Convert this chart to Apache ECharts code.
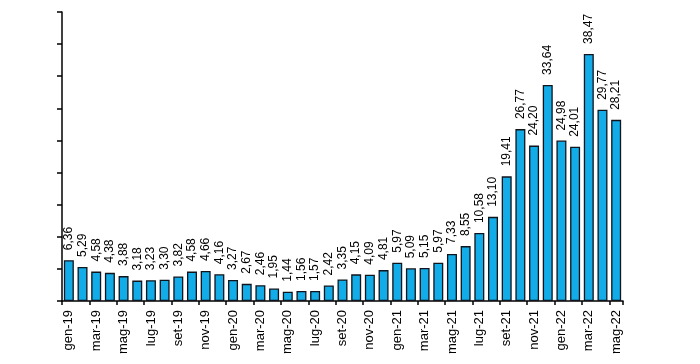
<!DOCTYPE html>
<html><head><meta charset="utf-8">
<script src="https://cdn.jsdelivr.net/npm/echarts@6/dist/echarts.min.js"></script>
<style>html,body{margin:0;padding:0;background:#fff}#c{width:700px;height:364px}</style>
</head><body><div id="c"></div>
<script>
const categories = ["gen-19","feb-19","mar-19","apr-19","mag-19","giu-19","lug-19","ago-19","set-19","ott-19","nov-19","dic-19",
"gen-20","feb-20","mar-20","apr-20","mag-20","giu-20","lug-20","ago-20","set-20","ott-20","nov-20","dic-20",
"gen-21","feb-21","mar-21","apr-21","mag-21","giu-21","lug-21","ago-21","set-21","ott-21","nov-21","dic-21",
"gen-22","feb-22","mar-22","apr-22","mag-22"];
const values = [6.36,5.29,4.58,4.38,3.88,3.18,3.23,3.30,3.82,4.58,4.66,4.16,
3.27,2.67,2.46,1.95,1.44,1.56,1.57,2.42,3.35,4.15,4.09,4.81,
5.97,5.09,5.15,5.97,7.33,8.55,10.58,13.10,19.41,26.77,24.20,33.64,
24.98,24.01,38.47,29.77,28.21];
const chart = echarts.init(document.getElementById('c'));
chart.setOption({
  animation:false,
  grid:{left:62,right:77,top:12,bottom:63},
  xAxis:{type:'category',data:categories,boundaryGap:true,
    axisLine:{lineStyle:{color:'#000',width:1.5}},
    axisTick:{show:true,interval:1,length:4,lineStyle:{color:'#000',width:1.5}},
    axisLabel:{interval:1,rotate:90,color:'#000',fontFamily:'Liberation Sans, Arial',fontSize:13,margin:9}},
  yAxis:{type:'value',min:0,max:45,interval:5,
    axisLine:{show:true,lineStyle:{color:'#000',width:1.5}},
    axisTick:{show:true,length:5,lineStyle:{color:'#000',width:1.5}},
    axisLabel:{show:false},splitLine:{show:false}},
  series:[{type:'bar',data:values,barCategoryGap:'27%',
    itemStyle:{color:'#12ACE8',borderColor:'#10141c',borderWidth:1.3},
    label:{show:true,position:'top',rotate:90,align:'left',verticalAlign:'middle',distance:10,
      color:'#000',fontFamily:'Liberation Sans, Arial',fontSize:12,
      formatter:p=>p.value.toFixed(2).replace('.',',')}}]
});
</script></body></html>
